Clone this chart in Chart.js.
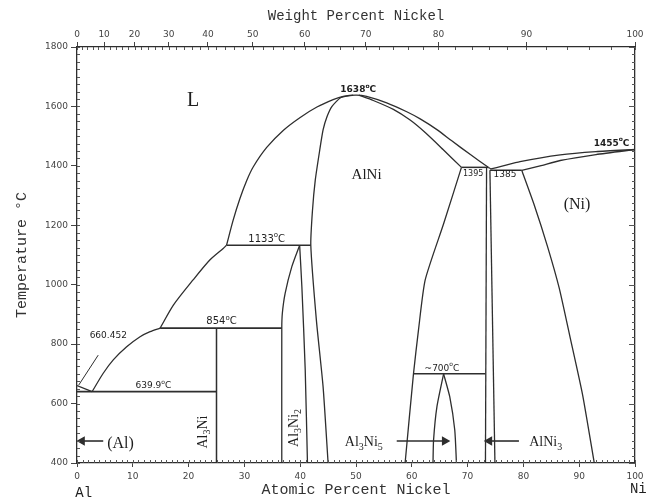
<!DOCTYPE html>
<html>
<head>
<meta charset="utf-8">
<script src="https://cdn.jsdelivr.net/npm/chart.js@4/dist/chart.umd.min.js"></script>
<style>
  html, body { margin: 0; padding: 0; background: #fff; }
  canvas { display: block; }
</style>
</head>
<body>
<canvas id="chart" width="664" height="499"></canvas>
<script>
// axis ticks
const atomicTicks = [0, 10, 20, 30, 40, 50, 60, 70, 80, 90, 100];
const weightTicks = [0, 10, 20, 30, 40, 50, 60, 70, 80, 90, 100];
const tempTicks = [400, 600, 800, 1000, 1200, 1400, 1600, 1800];
const atomicMinor = Array.from({ length: 101 }, (_, i) => i);
const weightMinor = Array.from({ length: 51 }, (_, i) => i * 2);
const tempMinor = Array.from({ length: 57 }, (_, i) => 400 + i * 25);

// phase boundaries, [at.% Ni, deg C]
const liquidusAl = [[0, 660.452], [2.7, 639.9]];
const liquidusAl3Ni = [[2.7, 639.9], [4.7, 702], [6.5, 747], [8.9, 791], [11.3, 825], [13.1, 842], [14.9, 854]];
const liquidusAl3Ni2 = [[14.9, 854], [17.3, 932], [20.8, 1016], [23.8, 1083], [26.2, 1122], [26.8, 1133]];
const liquidusAlNi = [[26.8, 1133], [28, 1218], [29.2, 1290], [30.4, 1350], [31.6, 1397], [34, 1462], [37, 1520],
  [40, 1563], [43, 1598], [45.9, 1623], [47.7, 1634], [50, 1638], [51.9, 1634], [55.5, 1612], [59.1, 1582],
  [61.5, 1558], [64.5, 1522], [67.1, 1485], [70.5, 1438], [73.7, 1395]];
const solidusAlNiLeft = [[49.5, 1638], [47.3, 1630], [45.7, 1600], [44.8, 1565], [44.1, 1521], [43.5, 1453],
  [42.7, 1352], [42.2, 1250], [41.9, 1133], [42.9, 881], [44.1, 657], [45, 400]];
const solidusAlNiRight = [[50.5, 1638], [53.1, 1620], [56.7, 1590], [59.7, 1554], [62.4, 1512], [65.6, 1455], [68.9, 1395]];
const solvusAlNiRight = [[68.9, 1395], [65.7, 1205], [62.4, 1016], [61.2, 848], [60.3, 700], [58.8, 400]];
const al3ni2Left = [[39.9, 1133], [38.5, 1061], [37.3, 971], [36.8, 904], [36.7, 854], [36.7, 400]];
const al3ni2Right = [[39.9, 1133], [40.3, 993], [40.9, 713], [41.3, 400]];
const al3niLine = [[25, 854], [25, 400]];
const al3ni5Left = [[65.7, 700], [64.5, 589], [63.9, 477], [63.8, 400]];
const al3ni5Right = [[65.7, 700], [66.8, 623], [67.7, 511], [68.0, 400]];
const alni3Left = [[73.4, 1395], [73.2, 400]];
const alni3Right = [[74.0, 1385], [74.9, 400]];
const liquidusNi = [[73.7, 1395], [74.2, 1390], [79.4, 1414], [86.6, 1437], [93, 1448], [100, 1455]];
const solidusNi = [[79.7, 1385], [83, 1400], [86.6, 1418], [93, 1438], [100, 1455]];
const solvusNi = [[79.7, 1385], [82, 1265], [84.3, 1130], [86.4, 990], [88.4, 820], [90.6, 630], [92.7, 400]];

// invariant lines
const eutectic640 = [[0, 639.9], [25, 639.9]];
const peritectic854 = [[14.9, 854], [36.7, 854]];
const peritectic1133 = [[26.8, 1133], [41.9, 1133]];
const peritectic1395 = [[68.9, 1395], [73.7, 1395]];
const eutectic1385 = [[74.0, 1385], [79.7, 1385]];
const line700 = [[60.3, 700], [73.2, 700]];
const leader660 = [[0.3, 662], [3.8, 763]];

// pointer arrows: [from, to]
const arrowAl = [[4.7, 474], [0.9, 474]];
const arrowAl3Ni5 = [[57.3, 474], [65.9, 474]];
const arrowAlNi3 = [[79.2, 474], [73.9, 474]];

// labels: parts [text, '', 'sub' or 'sup'], position in data units
const labels = [
  { parts: [['L', '']], at: [20.8, 1618], size: 20, family: 'Liberation Serif' },
  { parts: [['1638', ''], ['o', 'sup'], ['C', '']], at: [50.4, 1655], size: 9, family: 'DejaVu Sans', bold: true },
  { parts: [['AlNi', '']], at: [51.9, 1368], size: 15, family: 'Liberation Serif' },
  { parts: [['1395', '']], at: [71.0, 1374], size: 8, family: 'DejaVu Sans' },
  { parts: [['1385', '']], at: [76.7, 1370], size: 9, family: 'DejaVu Sans' },
  { parts: [['1455', ''], ['o', 'sup'], ['C', '']], at: [95.8, 1476], size: 9, family: 'DejaVu Sans', bold: true },
  { parts: [['(Ni)', '']], at: [89.6, 1268], size: 16, family: 'Liberation Serif' },
  { parts: [['1133', ''], ['o', 'sup'], ['C', '']], at: [34.0, 1153], size: 10, family: 'DejaVu Sans' },
  { parts: [['854', ''], ['o', 'sup'], ['C', '']], at: [25.9, 875], size: 10, family: 'DejaVu Sans' },
  { parts: [['660.452', '']], at: [5.6, 830], size: 9, family: 'DejaVu Sans' },
  { parts: [['639.9', ''], ['o', 'sup'], ['C', '']], at: [13.7, 660], size: 9, family: 'DejaVu Sans' },
  { parts: [['~700', ''], ['o', 'sup'], ['C', '']], at: [65.4, 719], size: 9, family: 'DejaVu Sans' },
  { parts: [['(Al)', '']], at: [7.8, 466], size: 16, family: 'Liberation Serif' },
  { parts: [['Al', ''], ['3', 'sub'], ['Ni', '']], at: [22.6, 504], size: 14, family: 'Liberation Serif', rotate: true },
  { parts: [['Al', ''], ['3', 'sub'], ['Ni', ''], ['2', 'sub']], at: [39.0, 518], size: 14, family: 'Liberation Serif', rotate: true },
  { parts: [['Al', ''], ['3', 'sub'], ['Ni', ''], ['5', 'sub']], at: [51.4, 468], size: 14, family: 'Liberation Serif' },
  { parts: [['AlNi', ''], ['3', 'sub']], at: [84.0, 468], size: 14, family: 'Liberation Serif' },
  { parts: [['Al', '']], at: [1.2, 297], size: 14, family: 'Liberation Mono' },
  { parts: [['Ni', '']], at: [100.6, 310], size: 14, family: 'Liberation Mono' },
];

const ink = '#2e2e2e';
const MASS_AL = 26.98, MASS_NI = 58.69;
function wtToAt(w) {
  const ni = w / MASS_NI, al = (100 - w) / MASS_AL;
  return 100 * ni / (ni + al);
}

const toXY = pts => pts.map(([x, y]) => ({ x, y }));
function curve(pts, width, tension) {
  return {
    data: toXY(pts), showLine: true, borderColor: ink, borderWidth: width,
    pointRadius: 0, tension: tension, fill: false, xAxisID: 'x', yAxisID: 'y',
  };
}
function arrow(pts, dir) {
  return {
    data: toXY(pts), showLine: true, borderColor: ink, borderWidth: 1.6,
    pointRadius: [0, 4], pointStyle: 'triangle', rotation: dir,
    pointBackgroundColor: ink, pointBorderColor: ink, xAxisID: 'x', yAxisID: 'y',
  };
}

const datasets = [
  curve(liquidusAl, 1.3, 0),
  curve(liquidusAl3Ni, 1.3, 0.25),
  curve(liquidusAl3Ni2, 1.3, 0.25),
  curve(liquidusAlNi, 1.3, 0.25),
  curve(solidusAlNiLeft, 1.3, 0.2),
  curve(solidusAlNiRight, 1.3, 0.2),
  curve(solvusAlNiRight, 1.3, 0.2),
  curve(al3ni2Left, 1.3, 0.2),
  curve(al3ni2Right, 1.3, 0.2),
  curve(al3niLine, 1.5, 0),
  curve(al3ni5Left, 1.3, 0.2),
  curve(al3ni5Right, 1.3, 0.2),
  curve(alni3Left, 1.3, 0),
  curve(alni3Right, 1.3, 0),
  curve(liquidusNi, 1.3, 0.2),
  curve(solidusNi, 1.3, 0.2),
  curve(solvusNi, 1.3, 0.2),
  curve(eutectic640, 1.8, 0),
  curve(peritectic854, 1.8, 0),
  curve(peritectic1133, 1.5, 0),
  curve(peritectic1395, 1.5, 0),
  curve(eutectic1385, 1.5, 0),
  curve(line700, 1.5, 0),
  curve(leader660, 1, 0),
  arrow(arrowAl, -90),
  arrow(arrowAl3Ni5, 90),
  arrow(arrowAlNi3, -90),
];

function drawRich(ctx, lab, px, py) {
  const { parts, size, family, bold } = lab;
  const fontFor = kind => {
    const s = kind ? Math.round(size * 0.72) : size;
    return (bold ? 'bold ' : '') + s + 'px "' + family + '"';
  };
  ctx.save();
  ctx.translate(px, py);
  if (lab.rotate) ctx.rotate(-Math.PI / 2);
  ctx.textBaseline = 'middle';
  ctx.textAlign = 'left';
  const widths = parts.map(([t, k]) => { ctx.font = fontFor(k); return ctx.measureText(t).width; });
  let cx = -widths.reduce((a, b) => a + b, 0) / 2;
  parts.forEach(([t, k], i) => {
    ctx.font = fontFor(k);
    const dy = k === 'sub' ? size * 0.3 : k === 'sup' ? -size * 0.4 : 0;
    ctx.fillText(t, cx, dy);
    cx += widths[i];
  });
  ctx.restore();
}

const diagramExtras = {
  id: 'diagramExtras',
  afterDatasetsDraw(chart) {
    const { ctx, chartArea: { left, right, top, bottom }, scales } = chart;
    ctx.save();
    ctx.strokeStyle = '#555';
    ctx.lineWidth = 1;
    ctx.beginPath();
    atomicMinor.forEach(v => {
      const px = Math.round(scales.x.getPixelForValue(v)) + 0.5;
      ctx.moveTo(px, bottom); ctx.lineTo(px, bottom - 3);
    });
    weightMinor.forEach(w => {
      const px = Math.round(scales.xTop.getPixelForValue(wtToAt(w))) + 0.5;
      ctx.moveTo(px, top); ctx.lineTo(px, top + 3);
    });
    tempMinor.forEach(t => {
      const py = Math.round(scales.y.getPixelForValue(t)) + 0.5;
      ctx.moveTo(left, py); ctx.lineTo(left + 3, py);
      ctx.moveTo(right, py); ctx.lineTo(right - 3, py);
    });
    tempTicks.forEach(t => {
      const py = Math.round(scales.y.getPixelForValue(t)) + 0.5;
      ctx.moveTo(right, py); ctx.lineTo(right - 6, py);
    });
    ctx.stroke();
    ctx.fillStyle = '#1e1e1e';
    labels.forEach(lab => {
      drawRich(ctx, lab, scales.x.getPixelForValue(lab.at[0]), scales.y.getPixelForValue(lab.at[1]));
    });
    ctx.restore();
  }
};

const tickFont = { family: 'DejaVu Sans', size: 9 };
const titleFont = { family: 'Liberation Mono', size: 15 };

new Chart(document.getElementById('chart'), {
  type: 'scatter',
  data: { datasets },
  plugins: [diagramExtras],
  options: {
    responsive: false,
    animation: false,
    devicePixelRatio: 1,
    layout: { padding: 0 },
    plugins: { legend: { display: false }, tooltip: { enabled: false } },
    scales: {
      x: {
        type: 'linear', position: 'bottom', min: 0, max: 100,
        afterBuildTicks: s => { s.ticks = atomicTicks.map(v => ({ value: v })); },
        ticks: { autoSkip: false, maxRotation: 0, padding: 4, color: '#444', font: tickFont,
          callback: v => String(v) },
        grid: { drawOnChartArea: false, tickLength: 4, color: '#444' },
        border: { color: ink, width: 1.3 },
        title: { display: true, text: 'Atomic Percent Nickel', color: '#333', font: titleFont, padding: { top: 0, bottom: 0 } },
        afterFit: s => { s.height = 36; },
      },
      xTop: {
        type: 'linear', position: 'top', min: 0, max: 100,
        afterBuildTicks: s => { s.ticks = weightTicks.map(w => ({ value: wtToAt(w) })); },
        ticks: { autoSkip: false, maxRotation: 0, padding: 2, color: '#444', font: tickFont,
          callback: (v, i) => String(weightTicks[i]) },
        grid: { drawOnChartArea: false, tickLength: 5, color: '#444' },
        border: { color: ink, width: 1.3 },
        title: { display: true, text: 'Weight Percent Nickel', color: '#333', font: { family: 'Liberation Mono', size: 14 }, padding: { top: 8, bottom: 0 } },
        afterFit: s => { s.height = 47; },
      },
      y: {
        type: 'linear', position: 'left', min: 400, max: 1800,
        afterBuildTicks: s => { s.ticks = tempTicks.map(v => ({ value: v })); },
        ticks: { autoSkip: false, padding: 3, color: '#444', font: tickFont,
          callback: v => String(v) },
        grid: { drawOnChartArea: false, tickLength: 6, color: '#444' },
        border: { color: ink, width: 1.3 },
        title: { display: true, text: 'Temperature °C', color: '#333', font: titleFont, padding: { top: 13, bottom: 0 } },
        afterFit: s => { s.width = 77; },
      },
      yRight: {
        type: 'linear', position: 'right', min: 400, max: 1800,
        ticks: { display: false },
        grid: { drawOnChartArea: false, drawTicks: false },
        border: { color: ink, width: 1.3 },
        afterFit: s => { s.width = 29; },
      },
    },
  },
});
</script>
</body>
</html>
